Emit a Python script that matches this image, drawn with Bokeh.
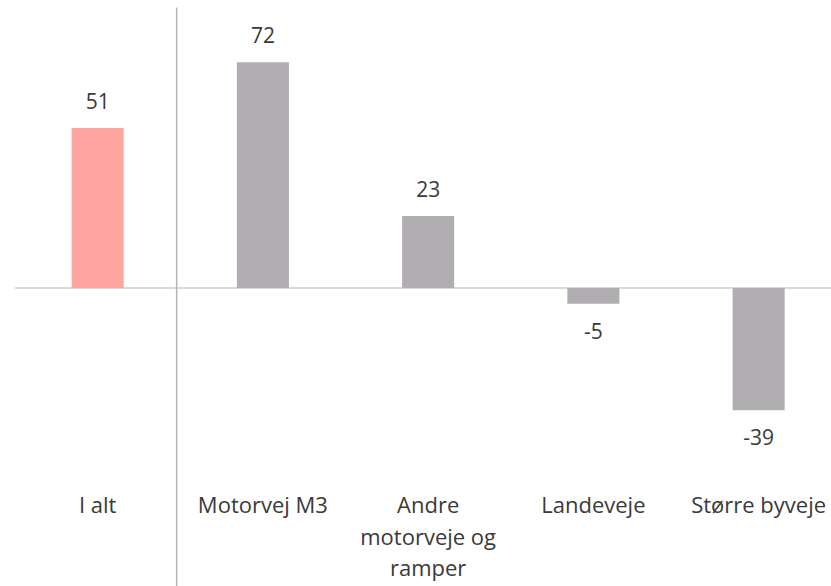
from bokeh.plotting import figure
from bokeh.models import ColumnDataSource, Range1d
from bokeh.core.properties import value
from bokeh.embed import file_html
from bokeh.resources import INLINE

# Data
categories = ["I alt", "Motorvej M3", "Andre\nmotorveje og\nramper", "Landeveje", "Større byveje"]
values = [51, 72, 23, -5, -39]
bar_colors = ["#FFA59F", "#B0AEB0", "#B0AEB0", "#B0AEB0", "#B0AEB0"]

FONT = "Open Sans"
TEXT_COLOR = "#3A3A3A"

xs = list(range(len(categories)))
label_offsets = [-27 if v >= 0 else 27 for v in values]
value_text = [str(v) for v in values]

src = ColumnDataSource(dict(x=xs, top=values, color=bar_colors,
                            label=value_text, off=label_offsets, cat=categories))

p = figure(width=831, height=586, output_backend="svg", toolbar_location=None,
           x_range=Range1d(-0.588, 4.441), y_range=Range1d(-95.2, 91.7),
           min_border=0, min_border_left=0, min_border_right=0,
           min_border_top=0, min_border_bottom=0)
p.axis.visible = False
p.grid.visible = False
p.outline_line_color = None
p.background_fill_color = "white"
p.border_fill_color = "white"

# zero baseline
p.segment(x0=[-0.5], y0=[0], x1=[4.441], y1=[0], line_color="#D9D9D9", line_width=2)

# separator between total and breakdown
p.segment(x0=[0.478], y0=[89.5], x1=[0.478], y1=[-95.2], line_color="#B4B4B4", line_width=1.5)

p.vbar(x="x", top="top", bottom=0, width=0.315, color="color", line_color=None, source=src)

p.text(x="x", y="top", text="label", y_offset="off", source=src,
       text_align="center", text_baseline="middle",
       text_font=value(FONT), text_font_size="21px", text_color=TEXT_COLOR)

# category labels below the bars
p.text(x="x", y=-64.2, text="cat", source=src,
       text_align="center", text_baseline="top", text_line_height=1.05,
       text_font=value(FONT), text_font_size="22px", text_color=TEXT_COLOR)

open("out.html", "w").write(file_html(p, INLINE))
